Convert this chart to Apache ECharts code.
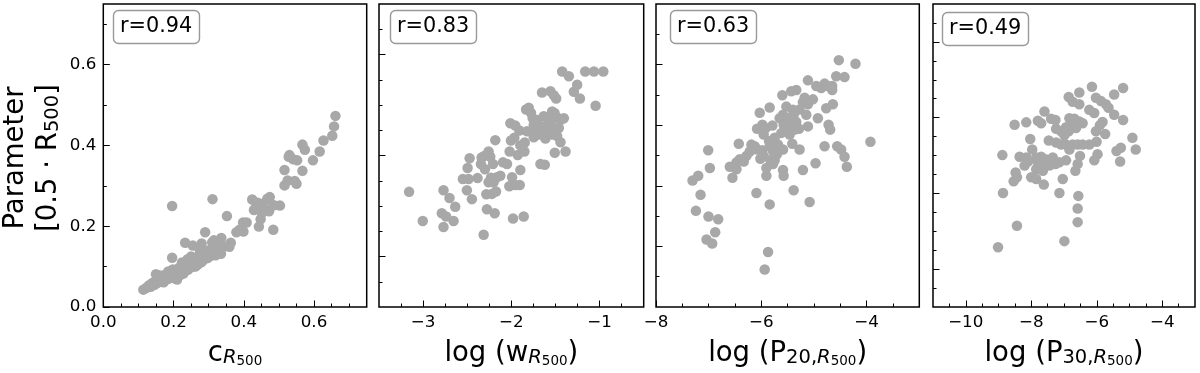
<!DOCTYPE html>
<html>
<head>
<meta charset="utf-8">
<script src="https://cdn.jsdelivr.net/npm/echarts@6/dist/echarts.min.js"></script>
<style>
  html, body { margin: 0; padding: 0; background: #fff; }
  #chart { width: 1200px; height: 373px; }
</style>
</head>
<body>
<div id="chart"></div>
<script>
// ---------------- DATA ----------------
const panel1Points = [
  [0.661,0.473],[0.657,0.447],[0.652,0.424],[0.627,0.412],[0.616,0.385],[0.597,0.363],[0.567,0.402],[0.574,0.389],
  [0.530,0.376],[0.540,0.366],[0.552,0.363],[0.567,0.337],[0.516,0.339],[0.525,0.313],[0.516,0.301],[0.550,0.305],
  [0.545,0.312],[0.528,0.372],
  [0.424,0.266],[0.440,0.258],[0.467,0.268],[0.474,0.272],[0.457,0.256],[0.503,0.251],[0.486,0.252],[0.429,0.240],
  [0.445,0.242],[0.462,0.240],[0.472,0.237],[0.448,0.217],[0.443,0.199],[0.484,0.191],[0.452,0.233],[0.435,0.248],
  [0.311,0.267],[0.196,0.250],[0.352,0.225],[0.408,0.209],[0.398,0.209],[0.388,0.191],[0.379,0.185],[0.399,0.187],
  [0.363,0.159],[0.359,0.149],[0.336,0.171],[0.290,0.185],[0.280,0.157],[0.310,0.160],[0.318,0.152],[0.326,0.142],
  [0.233,0.159],[0.255,0.152],[0.196,0.122],[0.345,0.150],[0.300,0.140],[0.315,0.165],
  [0.114,0.043],[0.122,0.047],[0.129,0.053],[0.135,0.050],[0.138,0.058],[0.143,0.061],[0.146,0.055],[0.150,0.081],
  [0.152,0.066],[0.155,0.060],[0.158,0.070],[0.162,0.064],[0.165,0.073],[0.168,0.068],[0.170,0.078],[0.172,0.061],
  [0.175,0.072],[0.178,0.076],[0.181,0.073],[0.184,0.069],[0.186,0.080],[0.189,0.075],[0.192,0.083],[0.195,0.081],
  [0.198,0.093],[0.198,0.072],[0.201,0.078],[0.204,0.086],[0.206,0.090],[0.209,0.082],[0.212,0.094],[0.214,0.087],
  [0.217,0.098],[0.219,0.079],[0.222,0.091],[0.224,0.110],[0.226,0.095],[0.229,0.100],[0.231,0.088],[0.234,0.104],
  [0.236,0.097],[0.239,0.108],[0.241,0.092],[0.244,0.112],[0.246,0.103],[0.249,0.098],[0.252,0.118],[0.254,0.106],
  [0.257,0.112],[0.259,0.101],[0.262,0.121],[0.264,0.110],[0.267,0.116],[0.269,0.105],[0.272,0.126],[0.274,0.118],
  [0.277,0.122],[0.280,0.111],[0.282,0.131],[0.285,0.124],[0.288,0.119],[0.291,0.134],[0.294,0.127],[0.297,0.121],
  [0.300,0.139],[0.305,0.126],[0.308,0.131],[0.312,0.143],[0.316,0.135],[0.320,0.128],[0.325,0.138],[0.330,0.146],
  [0.335,0.132],[0.262,0.100],[0.240,0.118],[0.210,0.068],[0.185,0.088],[0.160,0.078],[0.275,0.140],[0.250,0.125],
  [0.228,0.083]
];
const panel2Points = [
  [-3.159,0.285],[-3.004,0.213],[-2.769,0.289],[-2.769,0.198],[-2.701,0.270],[-2.636,0.248],[-2.788,0.232],[-2.739,0.224],
  [-2.655,0.213],[-2.504,0.289],[-2.447,0.267],[-2.549,0.317],[-2.485,0.317],[-2.496,0.344],[-2.473,0.368],[-2.383,0.319],
  [-2.314,0.179],[-2.277,0.242],[-2.284,0.279],[-2.299,0.341],[-2.337,0.370],[-2.307,0.374],[-2.258,0.385],[-2.239,0.372],
  [-2.208,0.354],[-2.189,0.232],[-2.182,0.413],[-2.174,0.286],[-2.231,0.320],[-2.258,0.309],[-2.201,0.309],[-2.163,0.321],
  [-2.125,0.325],[-2.095,0.358],[-2.023,0.299],[-1.981,0.219],[-1.955,0.302],[-1.905,0.302],[-1.860,0.224],[-1.898,0.339],
  [-1.928,0.376],[-2.019,0.385],[-2.004,0.412],[-1.966,0.419],[-1.898,0.400],[-1.852,0.385],[-2.011,0.455],[-1.955,0.449],
  [-1.909,0.437],[-1.848,0.407],[-1.822,0.435],[-1.833,0.489],[-1.803,0.493],[-1.777,0.480],[-1.758,0.467],[-1.727,0.433],
  [-1.746,0.420],[-1.670,0.354],[-1.621,0.352],[-1.652,0.531],[-1.557,0.534],[-1.519,0.524],[-1.492,0.516],[-1.538,0.484],
  [-1.633,0.472],[-1.587,0.467],[-1.511,0.480],[-1.481,0.469],[-1.443,0.463],[-1.549,0.451],[-1.644,0.447],[-1.689,0.427],
  [-1.614,0.417],[-1.538,0.427],[-1.481,0.423],[-1.462,0.443],[-1.443,0.408],[-1.508,0.382],[-1.386,0.385],[-1.424,0.583],
  [-1.348,0.571],[-1.254,0.550],[-1.292,0.533],[-1.223,0.516],[-1.163,0.583],[-1.064,0.583],[-0.958,0.583],[-1.045,0.498],
  [-1.746,0.451],[-1.708,0.463],[-1.595,0.439],[-1.405,0.467],[-1.500,0.439],[-2.049,0.354],[-1.992,0.321],[-2.345,0.354],
  [-2.220,0.280]
];
const panel3Points = [
  [-4.528,0.611],[-4.212,0.602],[-4.578,0.571],[-4.420,0.569],[-5.115,0.561],[-4.957,0.547],[-4.799,0.553],[-4.862,0.542],
  [-4.736,0.547],[-4.654,0.547],[-4.654,0.537],[-5.431,0.534],[-5.336,0.537],[-5.601,0.524],[-5.178,0.518],[-5.020,0.514],
  [-5.210,0.507],[-5.115,0.502],[-4.641,0.502],[-4.768,0.492],[-5.841,0.494],[-6.030,0.481],[-5.525,0.496],[-5.399,0.488],
  [-5.273,0.489],[-5.146,0.476],[-4.926,0.467],[-5.115,0.447],[-4.723,0.451],[-4.692,0.439],[-5.588,0.476],[-5.652,0.467],
  [-5.576,0.451],[-5.431,0.451],[-5.336,0.458],[-5.525,0.435],[-5.620,0.431],[-5.462,0.427],[-5.367,0.439],[-5.285,0.441],
  [-6.081,0.441],[-5.980,0.451],[-5.917,0.443],[-5.790,0.449],[-5.955,0.427],[-5.854,0.411],[-5.746,0.419],[-5.683,0.402],
  [-5.841,0.398],[-5.778,0.386],[-5.702,0.378],[-5.588,0.390],[-5.412,0.404],[-5.273,0.390],[-4.799,0.398],[-4.559,0.398],
  [-4.484,0.390],[-4.420,0.372],[-4.376,0.347],[-4.970,0.356],[-5.210,0.339],[-5.588,0.339],[-5.576,0.325],[-5.904,0.344],
  [-5.904,0.325],[-5.828,0.363],[-5.746,0.363],[-5.980,0.388],[-5.955,0.374],[-6.081,0.390],[-6.428,0.404],[-6.188,0.402],
  [-6.125,0.398],[-6.220,0.385],[-6.283,0.374],[-6.409,0.366],[-6.472,0.358],[-6.333,0.360],[-6.598,0.347],[-6.472,0.341],
  [-6.548,0.320],[-7.009,0.388],[-6.977,0.344],[-7.306,0.313],[-7.198,0.325],[-7.154,0.278],[-7.242,0.238],[-7.003,0.224],
  [-6.819,0.217],[-6.876,0.185],[-7.040,0.167],[-6.933,0.157],[-6.093,0.282],[-5.841,0.254],[-5.386,0.289],[-5.083,0.260],
  [-5.872,0.136],[-5.936,0.093],[-3.928,0.409],[-6.018,0.367],[-5.778,0.354],[-5.494,0.467],[-5.386,0.476]
];
const panel4Points = [
  [-6.147,0.545],[-5.195,0.542],[-6.532,0.531],[-6.856,0.520],[-5.468,0.526],[-6.025,0.518],[-5.873,0.510],[-6.735,0.508],
  [-6.532,0.502],[-5.721,0.502],[-5.640,0.493],[-6.228,0.488],[-6.076,0.480],[-7.596,0.484],[-5.468,0.476],[-5.195,0.463],
  [-8.153,0.457],[-7.798,0.461],[-7.697,0.455],[-8.508,0.451],[-7.393,0.466],[-7.261,0.463],[-6.836,0.467],[-6.684,0.466],
  [-6.532,0.459],[-6.431,0.455],[-6.755,0.453],[-6.633,0.443],[-6.937,0.445],[-6.856,0.435],[-7.241,0.441],[-7.089,0.435],
  [-6.988,0.425],[-5.823,0.458],[-5.904,0.450],[-6.025,0.435],[-5.742,0.428],[-8.031,0.416],[-7.464,0.412],[-7.241,0.407],
  [-7.089,0.402],[-6.937,0.402],[-6.735,0.402],[-6.583,0.402],[-6.431,0.402],[-6.228,0.402],[-6.005,0.409],[-7.971,0.390],
  [-6.836,0.390],[-4.911,0.419],[-4.810,0.390],[-5.265,0.394],[-5.397,0.386],[-5.286,0.360],[-5.975,0.378],[-6.076,0.363],
  [-6.512,0.374],[-6.583,0.354],[-6.653,0.337],[-6.937,0.363],[-7.140,0.358],[-7.342,0.370],[-7.444,0.362],[-7.565,0.366],
  [-7.697,0.372],[-7.849,0.370],[-8.153,0.370],[-8.356,0.372],[-8.882,0.376],[-7.697,0.355],[-7.444,0.350],[-7.646,0.337],
  [-7.849,0.341],[-8.001,0.321],[-7.849,0.317],[-8.477,0.333],[-8.538,0.311],[-8.437,0.321],[-7.616,0.303],[-7.261,0.354],
  [-7.038,0.317],[-7.140,0.282],[-6.562,0.275],[-6.583,0.244],[-6.583,0.210],[-8.862,0.282],[-8.437,0.201],[-6.988,0.163],
  [-9.014,0.148],[-8.102,0.360],[-7.798,0.358],[-8.204,0.350]
];

const rLabels = ['r=0.94', 'r=0.83', 'r=0.63', 'r=0.49'];

// x-axis ranges and ticks
const xRanges = [[0, 0.75], [-3.5, -0.5], [-8, -3], [-11, -3]];
const xMajorTicks = [[0, 0.2, 0.4, 0.6], [-3, -2, -1], [-8, -6, -4], [-10, -8, -6, -4]];
const xMinorTicks = [
  [0.05, 0.1, 0.15, 0.25, 0.3, 0.35, 0.45, 0.5, 0.55, 0.65, 0.7],
  [-3.25, -2.75, -2.5, -2.25, -1.75, -1.5, -1.25, -0.75],
  [-7.5, -7, -6.5, -5.5, -5, -4.5, -3.5],
  [-10.5, -9.5, -9, -8.5, -7.5, -7, -6.5, -5.5, -5, -4.5, -3.5]
];
// y-axis (shared value range) and tick marks of each panel
const yRange = [0, 0.75];
const yMajorTicks = [
  [0, 0.2, 0.4, 0.6],
  [0.125, 0.375, 0.625],
  [0.15, 0.3, 0.45, 0.6],
  [0.09375, 0.28125, 0.46875, 0.65625]
];
const yMinorTicks = [
  [0.1, 0.3, 0.5, 0.7],
  [0.0625, 0.1875, 0.25, 0.3125, 0.4375, 0.5, 0.5625, 0.6875],
  [0.075, 0.225, 0.375, 0.525, 0.675],
  [0.046875, 0.140625, 0.1875, 0.234375, 0.328125, 0.375, 0.421875, 0.515625, 0.5625, 0.609375, 0.703125]
];

// axis titles (rich text)
const xTitles = [
  '{m|c}{s|R}{ss|500}',
  '{m|log (w}{s|R}{ss|500}{m|)}',
  '{m|log (P}{su|20,}{s|R}{ss|500}{m|)}',
  '{m|log (P}{su|30,}{s|R}{ss|500}{m|)}'
];
const yTitle = '{a|Parameter}\n{a|[0.5 · R}{b|500}{a|]}';

// ---------------- LAYOUT ----------------
const FONT = 'DejaVu Sans';
const panelLeft = [103.3, 379, 656, 933];
const panelWidth = [263.4, 264.7, 263.3, 262];
const panelTop = 4;
const panelBottom = 61.3;
const rBoxLeft = [113, 390, 670, 942];
const rBoxTop = [10, 10, 10, 12];

const fmtX = [
  v => v.toFixed(1),
  v => (v < 0 ? '\u2212' : '') + Math.abs(v),
  v => (v < 0 ? '\u2212' : '') + Math.abs(v),
  v => (v < 0 ? '\u2212' : '') + Math.abs(v)
];

const titleRich = {
  m: { fontFamily: FONT, fontSize: 27.5, lineHeight: 34, verticalAlign: 'bottom', color: '#000' },
  su: { fontFamily: FONT, fontSize: 19.5, lineHeight: 20, verticalAlign: 'bottom', color: '#000' },
  s: { fontFamily: FONT, fontSize: 19.5, fontStyle: 'italic', lineHeight: 20, verticalAlign: 'bottom', color: '#000' },
  ss: { fontFamily: FONT, fontSize: 13.5, lineHeight: 8, verticalAlign: 'bottom', color: '#000' }
};

const grids = [], xAxes = [], yAxes = [], series = [], titles = [];
const allPoints = [panel1Points, panel2Points, panel3Points, panel4Points];

for (let i = 0; i < 4; i++) {
  grids.push({
    left: panelLeft[i], width: panelWidth[i], top: panelTop, bottom: panelBottom,
    show: true, borderColor: '#000', borderWidth: 1.5, backgroundColor: 'transparent', containLabel: false
  });
  xAxes.push({
    type: 'value', gridIndex: i, position: 'bottom', min: xRanges[i][0], max: xRanges[i][1],
    axisLine: { show: false },
    axisTick: { show: true, inside: true, length: 6.5, customValues: xMajorTicks[i], lineStyle: { color: '#000', width: 1 } },
    axisLabel: { show: true, customValues: xMajorTicks[i], formatter: fmtX[i], margin: 7,
      fontFamily: FONT, fontSize: 16.7, color: '#000' },
    splitLine: { show: false },
    name: xTitles[i], nameLocation: 'middle', nameGap: 27,
    nameTextStyle: { rich: titleRich }
  });
  xAxes.push({
    type: 'value', gridIndex: i, position: 'bottom', min: xRanges[i][0], max: xRanges[i][1],
    axisLine: { show: false },
    axisTick: { show: true, inside: true, length: 3.5, customValues: xMinorTicks[i], lineStyle: { color: '#000', width: 1 } },
    axisLabel: { show: false }, splitLine: { show: false }
  });
  yAxes.push({
    type: 'value', gridIndex: i, position: 'left', min: yRange[0], max: yRange[1],
    axisLine: { show: false },
    axisTick: { show: true, inside: true, length: 6.5, customValues: yMajorTicks[i], lineStyle: { color: '#000', width: 1 } },
    axisLabel: { show: i === 0, customValues: yMajorTicks[i], formatter: v => v.toFixed(1), margin: 7,
      fontFamily: FONT, fontSize: 16.7, color: '#000' },
    splitLine: { show: false }
  });
  yAxes.push({
    type: 'value', gridIndex: i, position: 'left', min: yRange[0], max: yRange[1],
    axisLine: { show: false },
    axisTick: { show: true, inside: true, length: 3.5, customValues: yMinorTicks[i], lineStyle: { color: '#000', width: 1 } },
    axisLabel: { show: false }, splitLine: { show: false }
  });
  series.push({
    type: 'scatter', xAxisIndex: 2 * i, yAxisIndex: 2 * i, data: allPoints[i],
    symbol: 'circle', symbolSize: 10.5,
    itemStyle: { color: '#a8a8a8', opacity: 1 },
    emphasis: { disabled: true }, silent: true
  });
  titles.push({
    text: rLabels[i], left: rBoxLeft[i], top: rBoxTop[i],
    padding: [6, 7, 6, 7],
    backgroundColor: '#fff', borderColor: '#999', borderWidth: 1.4, borderRadius: 5,
    textStyle: { fontFamily: FONT, fontSize: 20.8, fontWeight: 'normal', color: '#000', lineHeight: 22 }
  });
}

const chart = echarts.init(document.getElementById('chart'), null, { renderer: 'canvas' });
chart.setOption({
  animation: false,
  backgroundColor: '#fff',
  title: titles,
  grid: grids,
  xAxis: xAxes,
  yAxis: yAxes,
  series: series,
  graphic: [{
    type: 'text', x: 30, y: 158, rotation: Math.PI / 2,
    style: {
      text: yTitle, x: 0, y: 0,
      align: 'center', verticalAlign: 'middle', textAlign: 'center', textVerticalAlign: 'middle',
      rich: {
        a: { fontFamily: FONT, fontSize: 27.5, lineHeight: 33, verticalAlign: 'bottom', fill: '#000', color: '#000' },
        b: { fontFamily: FONT, fontSize: 19.5, lineHeight: 18, verticalAlign: 'bottom', fill: '#000', color: '#000' }
      }
    }
  }]
});
</script>
</body>
</html>
